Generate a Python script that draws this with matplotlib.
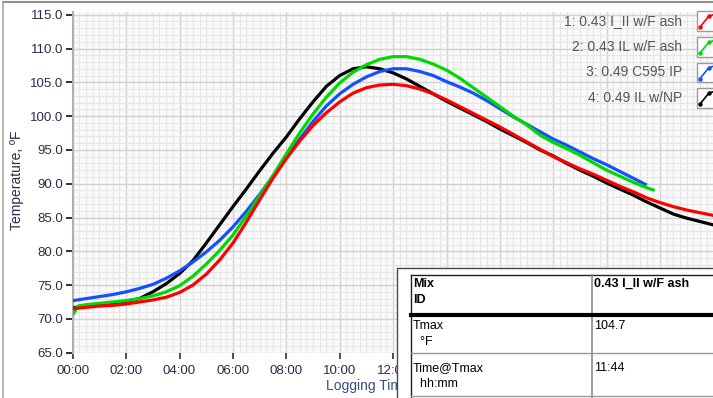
import matplotlib
matplotlib.use("Agg")
import matplotlib.pyplot as plt
from matplotlib.patches import Rectangle
from matplotlib.lines import Line2D
from matplotlib.ticker import MultipleLocator, FuncFormatter

plt.rcParams['font.family'] = ['Liberation Sans', 'DejaVu Sans']

# ---------------- data ----------------
series_names = ["1: 0.43 I_II w/F ash", "2: 0.43 IL w/F ash", "3: 0.49 C595 IP", "4: 0.49 IL w/NP"]
series_colors = ["#ff0000", "#00d800", "#1450ff", "#000000"]

t_red = [0, 0.5, 1, 1.5, 2, 2.5, 3, 3.5, 4, 4.5, 5, 5.5, 6, 6.5, 7, 7.5, 8, 8.5, 9, 9.5, 10, 10.5, 11, 11.5,
         12, 12.5, 13, 13.5, 14, 14.5, 15, 15.5, 16, 16.5, 17, 17.5, 18, 18.5, 19, 19.5, 20, 20.5, 21, 21.5,
         22, 22.5, 23, 23.5, 24]
temp_red = [71.5, 71.7, 71.9, 72.0, 72.2, 72.5, 72.8, 73.2, 73.9, 75.0, 76.6, 78.7, 81.2, 84.3, 87.6, 90.8,
            93.7, 96.3, 98.6, 100.5, 102.1, 103.4, 104.2, 104.6, 104.7, 104.5, 104.0, 103.3, 102.4, 101.4,
            100.4, 99.4, 98.4, 97.3, 96.2, 95.1, 94.0, 93.1, 92.2, 91.4, 90.5, 89.6, 88.8, 87.9, 87.2, 86.6,
            86.1, 85.7, 85.3]

t_green = [0, 0.2, 0.5, 1, 1.5, 2, 2.5, 3, 3.5, 4, 4.5, 5, 5.5, 6, 6.5, 7, 7.5, 8, 8.5, 9, 9.5, 10, 10.5, 11,
           11.5, 12, 12.5, 13, 13.5, 14, 14.5, 15, 15.5, 16, 16.5, 17, 17.5, 18, 18.5, 19, 19.5, 20, 20.5, 21,
           21.5, 21.8]
temp_green = [70.6, 71.9, 72.1, 72.3, 72.5, 72.7, 73.0, 73.4, 74.0, 74.9, 76.3, 78.1, 80.1, 82.4, 85.2, 88.2,
              91.2, 94.4, 97.5, 100.3, 102.8, 104.9, 106.5, 107.6, 108.4, 108.8, 108.8, 108.4, 107.7, 106.8,
              105.6, 104.2, 102.8, 101.4, 100.0, 98.7, 97.2, 96.1, 95.2, 94.2, 93.1, 92.0, 91.1, 90.2, 89.4, 89.0]

t_blue = [0, 0.5, 1, 1.5, 2, 2.5, 3, 3.5, 4, 4.5, 5, 5.5, 6, 6.5, 7, 7.5, 8, 8.5, 9, 9.5, 10, 10.5, 11, 11.5,
          12, 12.5, 13, 13.5, 14, 14.5, 15, 15.5, 16, 16.5, 17, 17.5, 18, 18.5, 19, 19.5, 20, 20.5, 21, 21.5]
temp_blue = [72.7, 73.0, 73.3, 73.6, 74.0, 74.5, 75.1, 76.0, 77.1, 78.4, 79.9, 81.6, 83.6, 85.9, 88.4, 91.1,
             93.9, 96.6, 99.2, 101.5, 103.3, 104.7, 105.8, 106.6, 107.0, 107.0, 106.6, 106.0, 105.1, 104.3,
             103.4, 102.3, 101.1, 99.9, 98.8, 97.7, 96.6, 95.7, 94.7, 93.7, 92.8, 91.8, 90.8, 89.8]

t_black = [0, 0.5, 1, 1.5, 2, 2.5, 3, 3.5, 4, 4.5, 5, 5.5, 6, 6.5, 7, 7.5, 8, 8.5, 9, 9.5, 10, 10.5, 11, 11.5,
           12, 12.5, 13, 13.5, 14, 14.5, 15, 15.5, 16, 16.5, 17, 17.5, 18, 18.5, 19, 19.5, 20, 20.5, 21, 21.5,
           22, 22.5, 23, 23.5, 24]
temp_black = [71.6, 71.9, 72.1, 72.3, 72.6, 73.0, 74.0, 75.2, 76.7, 78.6, 81.2, 83.9, 86.6, 89.2, 91.9, 94.5,
              96.9, 99.6, 102.1, 104.4, 106.0, 107.0, 107.3, 107.0, 106.4, 105.5, 104.4, 103.3, 102.2, 101.2,
              100.2, 99.2, 98.1, 97.1, 96.1, 95.0, 94.1, 93.0, 92.0, 91.1, 90.1, 89.2, 88.3, 87.3, 86.4, 85.5,
              84.9, 84.4, 83.9]

y_ticks = [65.0, 70.0, 75.0, 80.0, 85.0, 90.0, 95.0, 100.0, 105.0, 110.0, 115.0]
x_ticks = [0, 2, 4, 6, 8, 10, 12, 14, 16, 18, 20, 22]
x_tick_labels = ["00:00", "02:00", "04:00", "06:00", "08:00", "10:00", "12:00", "", "", "", "", ""]

table_header = ["Mix\nID", "0.43 I_II w/F ash"]
table_rows = [["Tmax\n  \u00b0F", "104.7"], ["Time@Tmax\n  hh:mm", "11:44"]]

# ---------------- figure ----------------
W, H = 713, 398
fig = plt.figure(figsize=(W / 100, H / 100), dpi=100)
fig.patch.set_facecolor("white")

def fx(px):
    return px / W

def fy(py):
    return 1 - py / H

x_left, x_right = 72.7, 713
y_top, y_bottom = 11.5, 352.7
ax = fig.add_axes([fx(x_left), fy(y_bottom), fx(x_right) - fx(x_left), fy(y_top) - fy(y_bottom)])
ax.set_facecolor("#fafafa")

px_per_hour = 26.7
ax.set_xlim(0, (x_right - x_left) / px_per_hour)
ax.set_ylim(65, 65 + (y_bottom - y_top) / 6.76)

ax.xaxis.set_minor_locator(MultipleLocator(0.25))
ax.yaxis.set_minor_locator(MultipleLocator(1))
ax.set_yticks(y_ticks)
ax.set_xticks(x_ticks)
ax.set_xticklabels(x_tick_labels)
ax.yaxis.set_major_formatter(FuncFormatter(lambda v, p: "%.1f" % v))

ax.grid(which="minor", color="#e6e6e6", linewidth=0.8)
ax.grid(which="major", color="#d2d2d2", linewidth=1.0)
ax.set_axisbelow(True)

for s in ["top", "right", "bottom"]:
    ax.spines[s].set_visible(False)
ax.spines["left"].set_color("#b0b0b0")
ax.spines["left"].set_linewidth(1.5)

label_color = "#2a2a48"
ax.tick_params(axis="y", which="major", length=5, width=1.4, color="#303030", pad=2,
               labelsize=9.5, labelcolor=label_color)
ax.tick_params(axis="x", which="major", length=4, width=1.2, color="#303030", pad=5,
               labelsize=9.5, labelcolor=label_color)
ax.tick_params(which="minor", length=0)

series = [(t_black, temp_black, 3), (t_blue, temp_blue, 2), (t_green, temp_green, 1), (t_red, temp_red, 0)]
for t, v, i in series:
    ax.plot(t, v, color=series_colors[i], linewidth=2.3, solid_capstyle="butt", zorder=3 + (3 - i))

fig.text(fx(17), fy(180), "Temperature, \u00baF", rotation=90, ha="center", va="center",
         fontsize=10, color=label_color)
fig.text(fx(368), fy(386), "Logging Time", ha="center", va="center", fontsize=10, color="#34507e")

# outer frame lines
fig.add_artist(Line2D([fx(3), fx(713)], [fy(1.5), fy(1.5)], color="#8e8e8e", linewidth=1.5))
fig.add_artist(Line2D([fx(3), fx(3)], [fy(1.5), fy(398)], color="#a8a8a8", linewidth=1.2))

# legend (plot-legend style)
legend_rows = [21, 47, 72.5, 98]
for i, name in enumerate(series_names):
    yc = legend_rows[i]
    fig.text(fx(682), fy(yc), name, ha="right", va="center", fontsize=10, color="#555555")
    fig.add_artist(Rectangle((fx(696.5), fy(yc + 9.5)), fx(30), 19 / H, transform=fig.transFigure,
                             facecolor="white", edgecolor="#9a9a9a", linewidth=1.0, zorder=5))
    fig.add_artist(Line2D([fx(700), fx(709), fx(716)], [fy(yc + 6), fy(yc - 5), fy(yc - 7)],
                          color=series_colors[i], linewidth=1.2, marker="o", markersize=2.2, zorder=6))

# table box
fig.add_artist(Rectangle((fx(397), fy(400)), fx(330), 132 / H, transform=fig.transFigure,
                         facecolor="white", edgecolor="#4a4a4a", linewidth=1.0, zorder=10))
tl, tc, tr = 410.5, 592, 720
fig.add_artist(Line2D([fx(tl), fx(tl)], [fy(275), fy(398)], color="#202020", linewidth=1.0, zorder=11))
fig.add_artist(Line2D([fx(tl), fx(tr)], [fy(275), fy(275)], color="#202020", linewidth=1.0, zorder=11))
fig.add_artist(Line2D([fx(tc), fx(tc)], [fy(275), fy(398)], color="#8a8a8a", linewidth=1.2, zorder=11))
fig.add_artist(Line2D([fx(tl), fx(tr)], [fy(314.5), fy(314.5)], color="#000000", linewidth=3.0, zorder=11))
fig.add_artist(Line2D([fx(tl), fx(tr)], [fy(352.5), fy(352.5)], color="#9a9a9a", linewidth=1.0, zorder=11))
fig.add_artist(Line2D([fx(tl), fx(tr)], [fy(396), fy(396)], color="#9a9a9a", linewidth=1.0, zorder=11))

fig.text(fx(413), fy(278), table_header[0], ha="left", va="top", fontsize=9, fontweight="bold",
         linespacing=1.45, zorder=12)
fig.text(fx(594), fy(278), table_header[1], ha="left", va="top", fontsize=9, fontweight="bold", zorder=12)
row_tops = [320, 362]
for (lab, val), yt in zip(table_rows, row_tops):
    fig.text(fx(413), fy(yt), lab, ha="left", va="top", fontsize=9, linespacing=1.45, zorder=12)
    fig.text(fx(594), fy(yt), val, ha="left", va="top", fontsize=9, zorder=12)

fig.savefig("out.png", dpi=100, facecolor="white")
